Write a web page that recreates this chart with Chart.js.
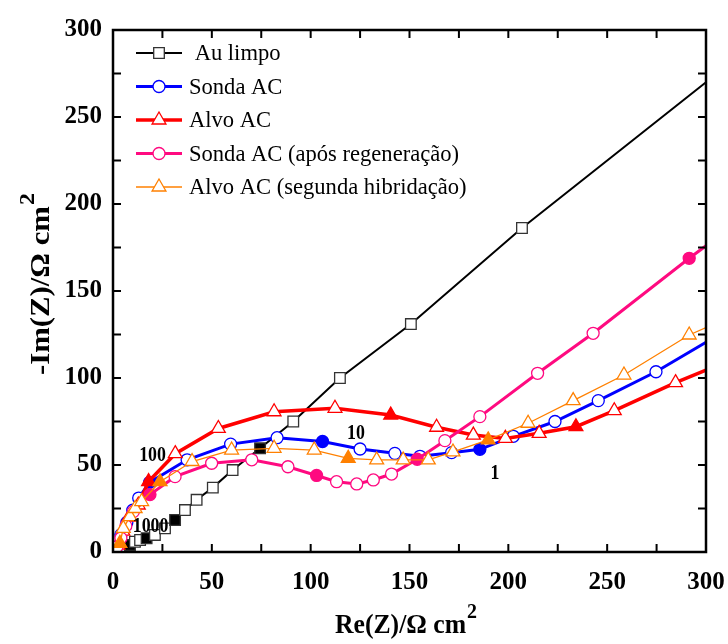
<!DOCTYPE html>
<html>
<head>
<meta charset="utf-8">
<script src="https://cdn.jsdelivr.net/npm/chart.js@4/dist/chart.umd.min.js"></script>
<style>
  html, body { margin: 0; padding: 0; background: #fff; }
  #wrap { width: 728px; height: 644px; }
</style>
</head>
<body>
<div id="wrap"><canvas id="c" width="728" height="644"></canvas></div>
<script>
// Nyquist data: Re(Z) and -Im(Z), in ohm cm^2
const seriesNames = [' Au limpo', 'Sonda AC', 'Alvo AC', 'Sonda AC (após regeneração)', 'Alvo AC (segunda hibridação)'];

const auRe = [1.5, 4, 6.5, 8.6, 11.1, 13.7, 17, 21.2, 26.3, 31.4, 36.4, 42.3, 50.5, 60.5, 74.4, 91.2, 114.8, 150.7, 206.9, 300];
const auIm = [0.8, 2, 3, 4, 5.9, 6.9, 7.9, 9.8, 13.6, 18.4, 24.1, 30, 37, 47.1, 59.6, 75, 100, 131, 186.2, 270];
const auFilled = [3, 6, 9, 14];

const sondaRe = [2, 4, 7, 10, 13, 18.5, 37.5, 59.5, 83, 106, 125, 142.6, 155.3, 171.3, 185.6, 202.5, 223.6, 245.5, 274.7, 300];
const sondaIm = [3, 10, 17, 24, 31, 40, 53, 62, 65.7, 63.5, 59.2, 56.7, 55, 57.1, 59, 66.5, 75, 87, 103.6, 120.5];
const sondaFilled = [5, 9, 14];

const alvoRe = [2.5, 5, 8, 12.8, 18, 31.5, 53.3, 81.5, 112.3, 140.5, 163.7, 182.3, 198.5, 215.6, 234.2, 253.6, 284.6, 300];
const alvoIm = [4, 12, 20, 27, 40.5, 56.5, 71, 80.6, 82.6, 78.7, 71.7, 67.2, 65.3, 68.2, 72, 81.2, 97.3, 104.6];
const alvoFilled = [4, 9, 14];

const regRe = [2, 4, 6.5, 10.3, 18.7, 31.4, 49.9, 70.2, 88.5, 103, 113.1, 123.3, 131.7, 140.9, 153.9, 167.9, 185.6, 214.8, 242.9, 291.5, 300];
const regIm = [3, 8, 15, 23.2, 33, 43.3, 51, 53, 49, 44, 40.4, 39.1, 41.4, 44.8, 53.3, 64, 77.8, 102.7, 125.7, 168.8, 176];
const regFilled = [4, 9, 14, 19];

const segRe = [3.5, 5.2, 8.6, 11.2, 14.5, 23.8, 40, 60, 81.5, 101.8, 119, 133.4, 146.8, 159.5, 172, 189.8, 210, 232.8, 258.5, 291.5, 300];
const segIm = [5, 13.6, 20.3, 25, 29, 40.4, 52, 58.6, 59.6, 58.6, 53.8, 52.9, 52.9, 52.9, 57.5, 64.4, 74, 87, 101.7, 124.7, 129];
const segFilled = [0, 5, 10, 15];

// frequency labels (Hz) placed at Re/Im coordinates
const freqText = ['1000', '100', '10', '1'];
const freqRe = [19, 20, 122.9, 193.2];
const freqIm = [14.4, 55.7, 67.8, 44.8];

const axisMax = 300;
const tickStep = 50;
const minorStep = 25;

const SERIF = '"Liberation Serif", "Times New Roman", serif';

function pts(xs, ys) { return xs.map((x, i) => ({ x: x, y: ys[i] })); }

function makeSet(i, xs, ys, filled, color, markEdge, style, radius, lw) {
  const fset = new Set(filled);
  return {
    label: seriesNames[i],
    data: pts(xs, ys),
    showLine: true,
    borderColor: color,
    borderWidth: lw,
    pointStyle: style,
    markSize: radius,
    pointRadius: c => (c.raw && c.raw.x >= axisMax ? 0 : radius),
    pointHoverRadius: radius,
    pointBorderWidth: 1.3,
    pointBorderColor: markEdge,
    pointBackgroundColor: c => (fset.has(c.dataIndex) ? (style === 'rect' ? '#000' : color) : '#fff'),
    order: 10 - i,
    tension: 0
  };
}

const datasets = [
  makeSet(0, auRe, auIm, auFilled, '#000000', '#333333', 'rect', 7.5, 2),
  makeSet(1, sondaRe, sondaIm, sondaFilled, '#0000ff', '#0000ff', 'circle', 6, 3),
  makeSet(2, alvoRe, alvoIm, alvoFilled, '#ff0000', '#ff0000', 'triangle', 8, 3.5),
  makeSet(3, regRe, regIm, regFilled, '#ff0a80', '#ff0a80', 'circle', 6, 3),
  makeSet(4, segRe, segIm, segFilled, '#ff8000', '#ff8000', 'triangle', 8, 1.3)
];

function drawSupText(ctx, main, sup, cx, baseY, targetW, mainSize, supSize, supRise) {
  ctx.save();
  ctx.font = 'bold ' + mainSize + 'px ' + SERIF;
  const wM = ctx.measureText(main).width;
  ctx.font = 'bold ' + supSize + 'px ' + SERIF;
  const wS = ctx.measureText(sup).width;
  const total = wM + 1 + wS;
  const sx = targetW / total;
  ctx.translate(cx - targetW / 2, baseY);
  ctx.scale(sx, 1);
  ctx.fillStyle = '#000';
  ctx.textBaseline = 'alphabetic';
  ctx.textAlign = 'left';
  ctx.font = 'bold ' + mainSize + 'px ' + SERIF;
  ctx.fillText(main, 0, 0);
  ctx.font = 'bold ' + supSize + 'px ' + SERIF;
  ctx.fillText(sup, wM + 1, -supRise);
  ctx.restore();
}

const decor = {
  id: 'decor',
  afterDatasetsDraw(chart) {
    const ctx = chart.ctx;
    const a = chart.chartArea;
    const xs = chart.scales.x, ys = chart.scales.y;
    ctx.save();

    // frame
    ctx.strokeStyle = '#000';
    ctx.lineWidth = 2.5;
    ctx.strokeRect(a.left, a.top, a.right - a.left, a.bottom - a.top);

    // inward ticks on all four sides
    ctx.lineWidth = 2;
    const tl = 8;
    ctx.beginPath();
    for (let v = minorStep; v < axisMax; v += minorStep) {
      const px = xs.getPixelForValue(v);
      ctx.moveTo(px, a.bottom); ctx.lineTo(px, a.bottom - tl);
      ctx.moveTo(px, a.top); ctx.lineTo(px, a.top + tl);
      const py = ys.getPixelForValue(v);
      ctx.moveTo(a.left, py); ctx.lineTo(a.left + tl, py);
      ctx.moveTo(a.right, py); ctx.lineTo(a.right - tl, py);
    }
    ctx.stroke();

    // frequency annotations
    ctx.fillStyle = '#000';
    ctx.textAlign = 'center';
    ctx.textBaseline = 'middle';
    for (let i = 0; i < freqText.length; i++) {
      const px = xs.getPixelForValue(freqRe[i]);
      const py = ys.getPixelForValue(freqIm[i]);
      ctx.save();
      ctx.translate(px, py);
      ctx.scale(0.85, 1);
      ctx.font = 'bold 21px ' + SERIF;
      ctx.fillText(freqText[i], 0, 0);
      ctx.restore();
    }

    // legend
    const lx0 = 136, lx1 = 182, mx = 159, tx = 189;
    ctx.font = '24px ' + SERIF;
    const refW = ctx.measureText(seriesNames[3]).width;
    const lsx = 270 / refW;
    chart.data.datasets.forEach((ds, i) => {
      const y = 53 + i * 33.5;
      ctx.strokeStyle = ds.borderColor;
      ctx.lineWidth = ds.borderWidth;
      ctx.beginPath();
      ctx.moveTo(lx0, y); ctx.lineTo(lx1, y);
      ctx.stroke();
      ctx.fillStyle = '#fff';
      ctx.strokeStyle = ds.pointBorderColor;
      ctx.lineWidth = ds.pointBorderWidth;
      Chart.helpers.drawPoint(ctx, { pointStyle: ds.pointStyle, radius: ds.markSize, rotation: 0, borderWidth: ds.pointBorderWidth }, mx, y);
      ctx.save();
      ctx.translate(tx, y);
      ctx.scale(lsx, 1);
      ctx.fillStyle = '#000';
      ctx.textAlign = 'left';
      ctx.textBaseline = 'middle';
      ctx.font = '24px ' + SERIF;
      ctx.fillText(ds.label, 0, 1);
      ctx.restore();
    });

    // axis titles
    drawSupText(ctx, 'Re(Z)/\u03A9 cm', '2', 406, 633, 142, 27, 21, 15);
    ctx.save();
    ctx.translate(49, 284);
    ctx.rotate(-Math.PI / 2);
    drawSupText(ctx, '-Im(Z)/\u03A9 cm', '2', 0, 0, 182, 27, 21, 15);
    ctx.restore();

    ctx.restore();
  }
};

new Chart(document.getElementById('c'), {
  type: 'scatter',
  data: { datasets: datasets },
  options: {
    responsive: false,
    animation: false,
    devicePixelRatio: 1,
    layout: { padding: { left: 0, right: 22, top: 30, bottom: 0 } },
    plugins: { legend: { display: false }, tooltip: { enabled: false } },
    scales: {
      x: {
        type: 'linear', min: 0, max: axisMax,
        afterFit: s => { s.height = 92; s.paddingLeft = 0; s.paddingRight = 0; },
        grid: { display: false, drawTicks: false },
        border: { display: false },
        ticks: { stepSize: tickStep, padding: 16, color: '#000', font: { family: SERIF, size: 25, weight: 'bold' } }
      },
      y: {
        type: 'linear', min: 0, max: axisMax,
        afterFit: s => { s.width = 113; s.paddingTop = 0; s.paddingBottom = 0; },
        grid: { display: false, drawTicks: false },
        border: { display: false },
        ticks: { stepSize: tickStep, padding: 11, color: '#000', font: { family: SERIF, size: 25, weight: 'bold' } }
      }
    }
  },
  plugins: [decor]
});
</script>
</body>
</html>
